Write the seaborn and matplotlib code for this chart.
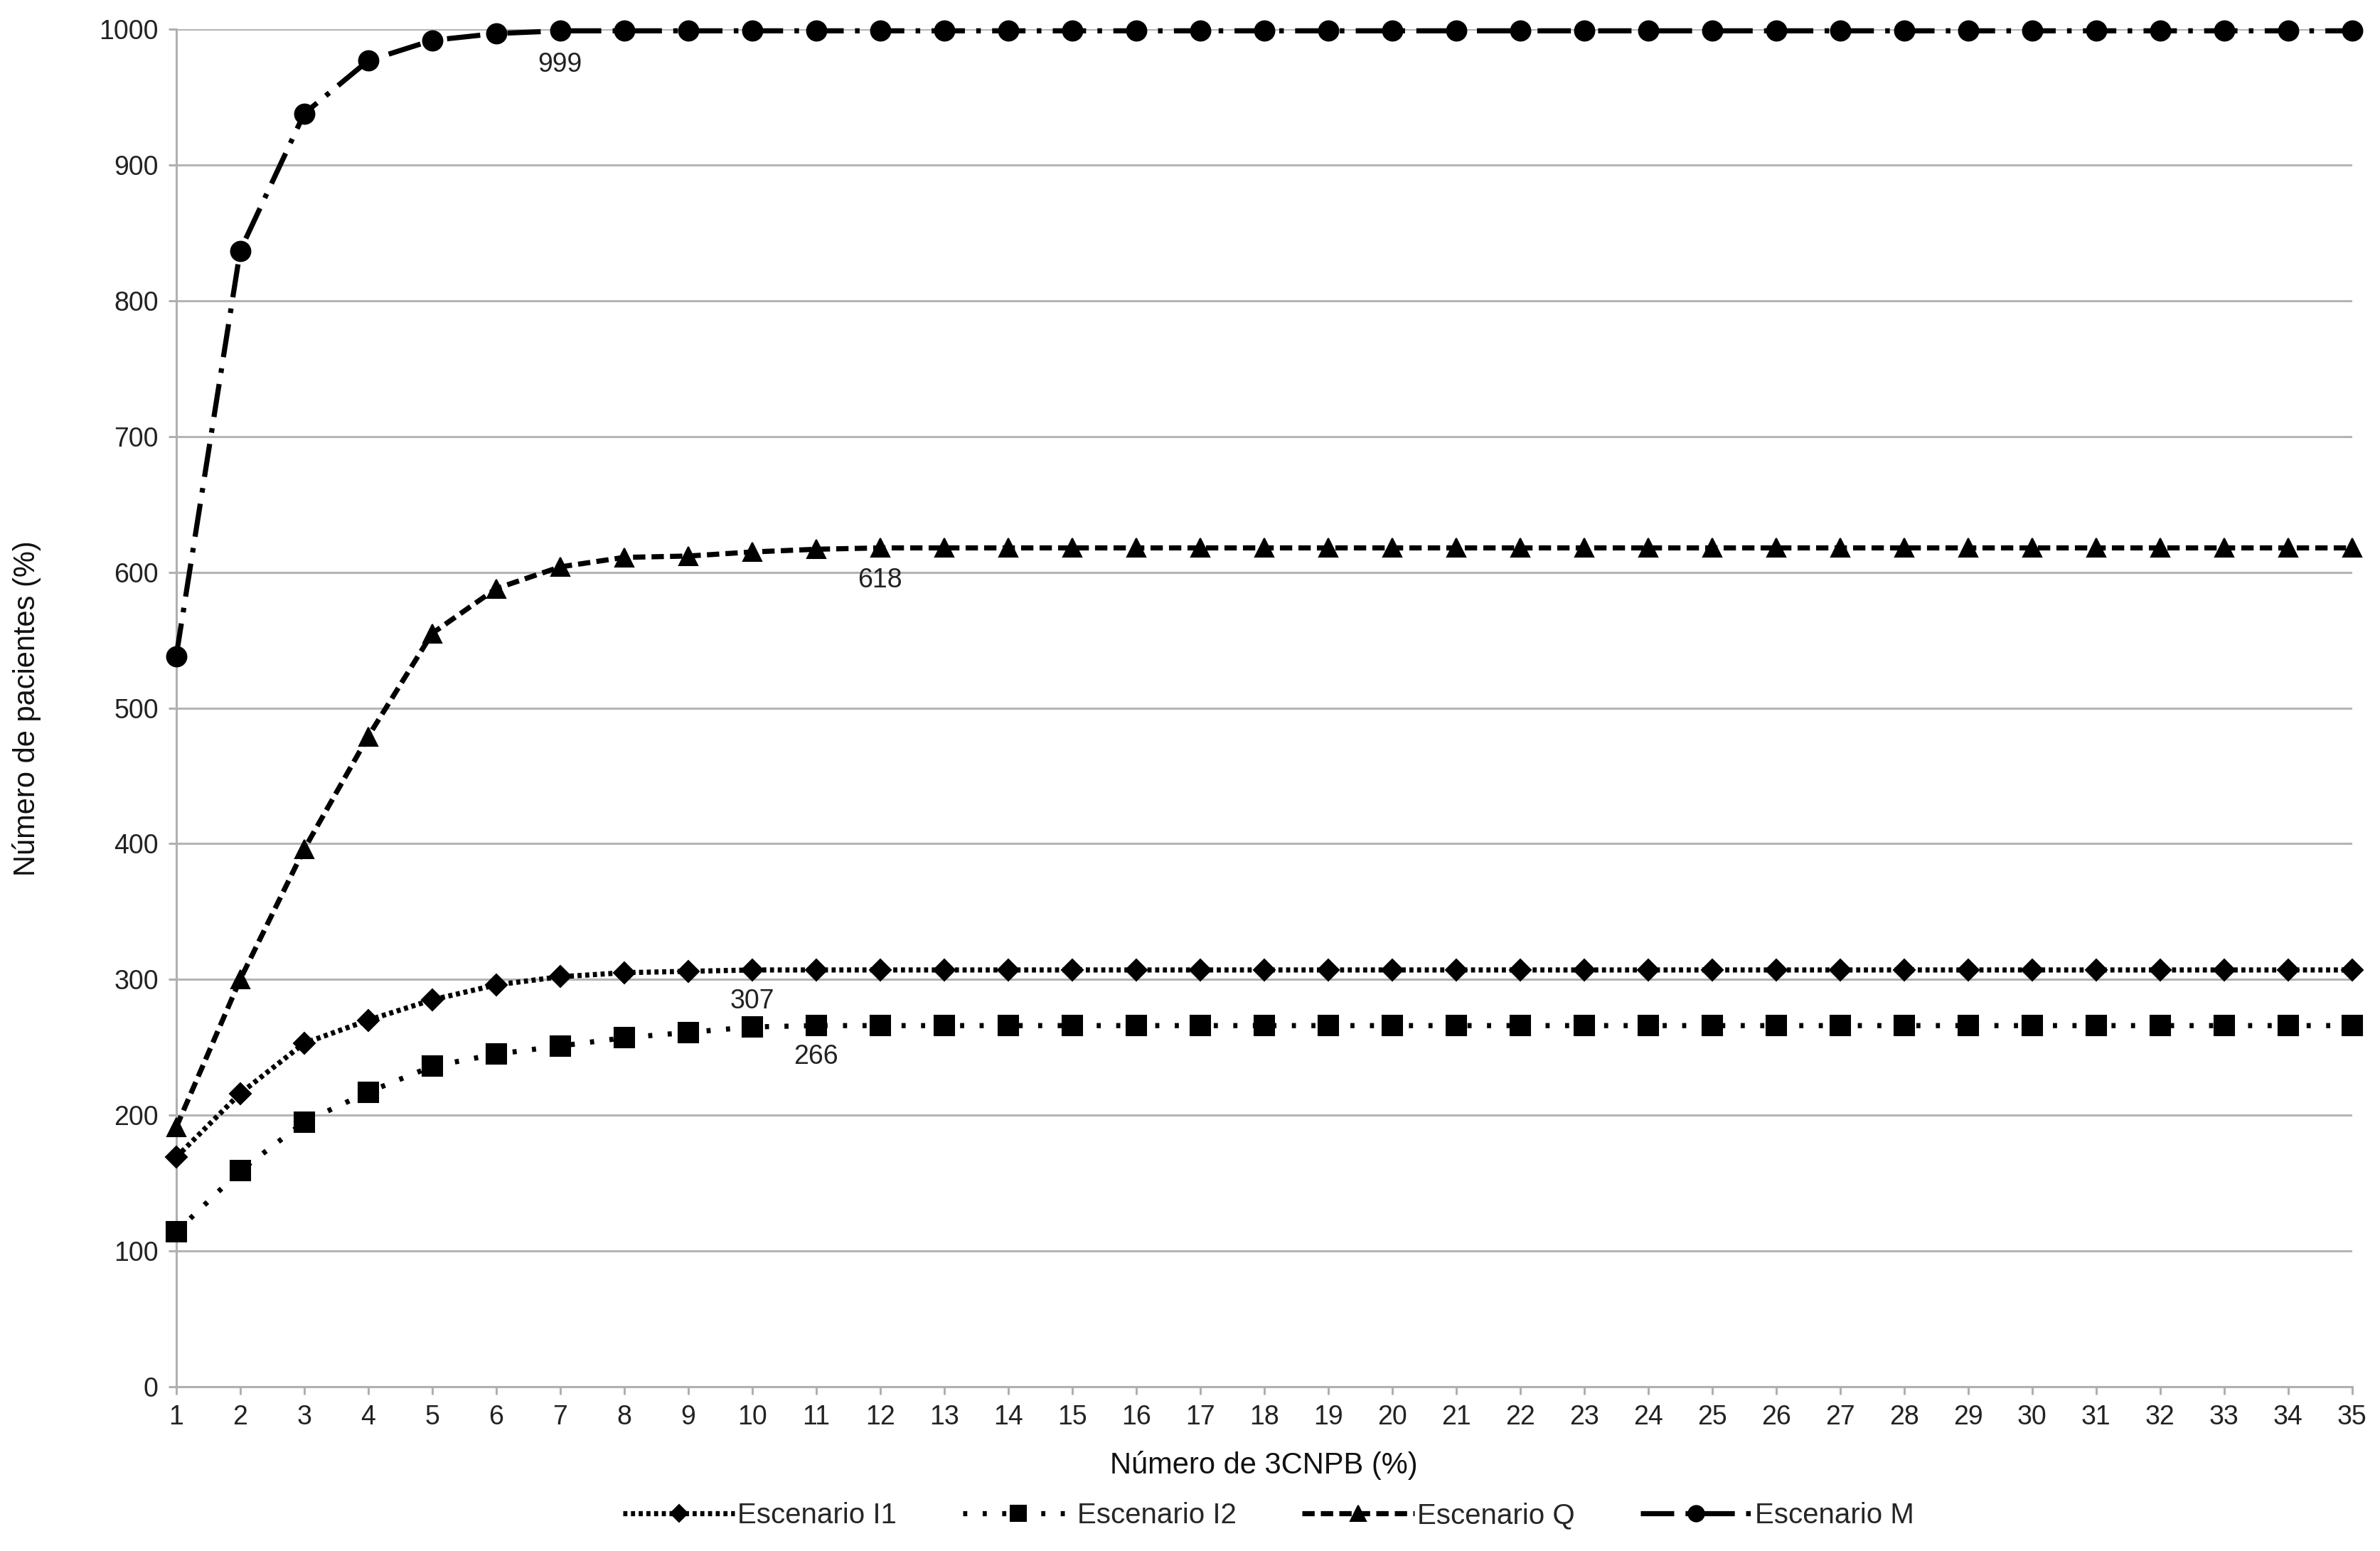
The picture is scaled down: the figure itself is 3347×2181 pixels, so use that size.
"""Número de pacientes frente a número de 3CNPB, cuatro escenarios."""
import matplotlib
matplotlib.use("Agg")
import matplotlib.pyplot as plt
import pandas as pd
import seaborn as sns

x_vals = list(range(1, 36))

esc_i1 = [169, 216, 253, 270, 285, 296, 302, 305, 306, 307, 307, 307, 307, 307, 307, 307, 307, 307,
          307, 307, 307, 307, 307, 307, 307, 307, 307, 307, 307, 307, 307, 307, 307, 307, 307]
esc_i2 = [114, 159, 195, 217, 236, 245, 251, 257, 261, 265, 266, 266, 266, 266, 266, 266, 266, 266,
          266, 266, 266, 266, 266, 266, 266, 266, 266, 266, 266, 266, 266, 266, 266, 266, 266]
esc_q = [191, 300, 396, 479, 555, 588, 604, 611, 612, 615, 617, 618, 618, 618, 618, 618, 618, 618,
         618, 618, 618, 618, 618, 618, 618, 618, 618, 618, 618, 618, 618, 618, 618, 618, 618]
esc_m = [538, 837, 938, 977, 992, 997, 999, 999, 999, 999, 999, 999, 999, 999, 999, 999, 999, 999,
         999, 999, 999, 999, 999, 999, 999, 999, 999, 999, 999, 999, 999, 999, 999, 999, 999]

series_names = ["Escenario I1", "Escenario I2", "Escenario Q", "Escenario M"]
y_ticks = list(range(0, 1001, 100))

# value labels: text, x, y
annot_text = ["999", "618", "307", "266"]
annot_x = [7.0, 12.0, 10.0, 11.0]
annot_y = [974, 594, 284, 243]

sns.set_theme(style="whitegrid")
plt.rcParams["font.family"] = ["Liberation Sans", "DejaVu Sans"]

df = pd.DataFrame({
    "x": x_vals * 4,
    "valor": esc_i1 + esc_i2 + esc_q + esc_m,
    "serie": [s for s in series_names for _ in x_vals],
})

styles = {
    "Escenario I1": dict(marker="D", markersize=7.5, dashes=(0.8, 0.7)),
    "Escenario I2": dict(marker="s", markersize=10, dashes=(0.8, 3.0)),
    "Escenario Q": dict(marker="^", markersize=9.5, dashes=(2.4, 1.2)),
    "Escenario M": dict(marker="o", markersize=10, dashes=(6.5, 2.2, 0.9, 2.2)),
}

fig, ax = plt.subplots(figsize=(16.74, 10.905))
fig.subplots_adjust(left=0.074, right=0.988, top=0.981, bottom=0.106)

for name in series_names:
    st = styles[name]
    sub = df[df["serie"] == name]
    sns.lineplot(data=sub, x="x", y="valor", ax=ax, color="black", linewidth=2.6,
                 linestyle=(0, st["dashes"]), marker=st["marker"], markersize=st["markersize"],
                 markeredgecolor="black", markerfacecolor="black", dash_capstyle="butt",
                 label=name, clip_on=False, zorder=3)

for t, xx, yy in zip(annot_text, annot_x, annot_y):
    ax.text(xx, yy, t, ha="center", va="center", fontsize=13.5, color="#222222")

ax.set_xlim(1, 35)
ax.set_ylim(0, 1000)
ax.set_xticks(x_vals)
ax.set_yticks(y_ticks)
ax.grid(axis="x", visible=False)
ax.grid(axis="y", color="#b5b5b5", linewidth=1.1)
for side in ["top", "right"]:
    ax.spines[side].set_visible(False)
for side in ["left", "bottom"]:
    ax.spines[side].set_color("#b0b0b0")
    ax.spines[side].set_linewidth(1.1)
ax.tick_params(axis="both", which="major", direction="out", length=4, width=1.1,
               color="#b0b0b0", labelsize=13.5, labelcolor="#222222", pad=5,
               bottom=True, left=True)

ax.set_xlabel("Número de 3CNPB (%)", fontsize=15, color="#111111")
ax.set_ylabel("Número de pacientes (%)", fontsize=15, color="#111111")
ax.xaxis.set_label_coords(0.5, -0.047)
ax.yaxis.set_label_coords(-0.062, 0.5)

ax.legend(loc="center", bbox_to_anchor=(0.502, -0.095), ncol=4, frameon=False,
          fontsize=14.5, handlelength=3.9, handletextpad=0.1, columnspacing=2.3,
          markerscale=0.8)

fig.savefig("out.png", dpi=200, facecolor="white")
